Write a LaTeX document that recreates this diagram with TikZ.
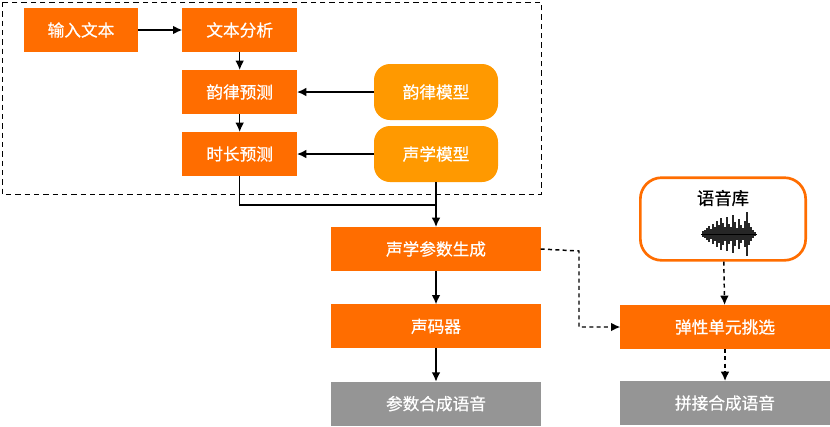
\documentclass[tikz,border=0pt]{standalone}
\usepackage{fontspec}
\setmainfont[FakeBold=0.6]{Noto Sans CJK SC}
\usetikzlibrary{positioning}
\usetikzlibrary{arrows.meta}

\definecolor{ttsorange}{HTML}{FF6D00}
\definecolor{ttslight}{HTML}{FF9900}
\definecolor{ttsgray}{HTML}{959595}

\begin{document}
\begin{tikzpicture}[x=0.75pt,y=-0.75pt,>={Latex[length=7pt,width=6.5pt]},font=\fontsize{12.5}{14}\selectfont,line width=1.1pt,
	proc/.style={fill=ttsorange,text=white,minimum width=86pt,minimum height=33pt,inner sep=0pt,outer sep=0pt},
	wide/.style={minimum width=157pt},
	model/.style={fill=ttslight,text=white,rounded corners=12pt,minimum width=93pt,minimum height=42pt,inner sep=0pt,outer sep=0pt},
	result/.style={fill=ttsgray,text=white,minimum width=157pt,minimum height=33pt,inner sep=0pt,outer sep=0pt},
	dbbox/.style={draw=ttsorange,line width=2pt,rounded corners=16pt,minimum width=124pt,minimum height=62pt,inner sep=0pt},
	dashline/.style={dash pattern=on 3pt off 2.5pt}]
	\useasboundingbox (0,0) rectangle (830,426);
	\draw [dash pattern=on 4pt off 3pt,line width=0.7pt] (2,2) rectangle (541,194);

	\node [proc] at (81,30) (input) {输入文本};
	\node [proc,right=33pt of input] (analysis) {文本分析};
	\node [proc,below=13.5pt of analysis] (prosody) {韵律预测};
	\node [proc,below=13.5pt of prosody] (duration) {时长预测};
	\node [model] at (436,92) (prosody_model) {韵律模型};
	\node [model] at (436,154) (acoustic_model) {声学模型};

	\node [proc,wide] at (436,249) (param_gen) {声学参数生成};
	\node [proc,wide,below=25pt of param_gen] (vocoder) {声码器};
	\node [result,below=25pt of vocoder] (param_speech) {参数合成语音};

	\node [dbbox] at (723,219) (corpus) {};
	\node [text=black,font=\fontsize{13}{15}\selectfont] at (723,198) (corpus_label) {语音库};
	\coordinate (wave) at (729,234);
	\draw [line width=0.6pt] ([shift={(-28,0)}]wave) -- ([shift={(28,0)}]wave);
	\foreach \dx/\h in {-26/3,-24/4,-22/6,-20/8,-18/5,-16/10,-14/7,-12/13,-10/9,-8/16,-6/11,-4/7,-2/17,0/10,2/7,4/19,6/12,8/6,10/15,12/9,14/6,16/13,18/22,20/11,22/7,24/4,26/2}
		\draw [line width=0.9pt,opacity=0.85] ([shift={(\dx,-\h)}]wave) -- ([shift={(\dx,\h)}]wave);

	\node [proc,wide] at (725,327) (select) {弹性单元挑选};
	\node [result,below=24pt of select] (concat_speech) {拼接合成语音};

	\draw [->] (input) -- (analysis);
	\draw [->] (analysis) -- (prosody);
	\draw [->] (prosody) -- (duration);
	\draw [->] (prosody_model) -- (prosody);
	\draw [->] (acoustic_model) -- (duration);
	\coordinate (merge) at (436,205);
	\draw (duration.south) |- (merge);
	\draw [->] (acoustic_model) -- (param_gen);
	\draw [->] (param_gen) -- (vocoder);
	\draw [->] (vocoder) -- (param_speech);

	\coordinate (bend) at (579,251);
	\draw [->,dashline] (param_gen.east) -- (bend) |- (select.west);
	\draw [->,dashline] (corpus) -- (select);
	\draw [->,dashline] (select) -- (concat_speech);
\end{tikzpicture}
\end{document}
